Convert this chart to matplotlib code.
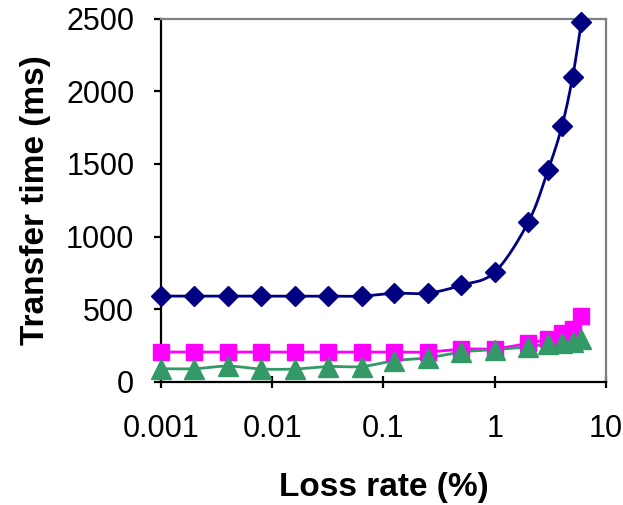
import numpy as np
import matplotlib.pyplot as plt
from matplotlib.ticker import FixedLocator, FixedFormatter, NullLocator

plt.rcParams['font.family'] = ['Liberation Sans', 'DejaVu Sans']

# loss rate (%)
loss = [0.001, 0.002, 0.004, 0.008, 0.016, 0.032, 0.064, 0.125, 0.25, 0.5,
        1, 2, 3, 4, 5, 6]

# transfer time (ms) for the three series
navy = [590, 590, 590, 590, 590, 590, 590, 610, 610, 665,
        755, 1100, 1455, 1758, 2100, 2480]
magenta = [205, 205, 205, 205, 205, 205, 205, 205, 205, 225,
           228, 265, 295, 335, 360, 450]
green = [90, 90, 108, 88, 88, 105, 105, 145, 165, 205,
         222, 240, 262, 265, 275, 296]

xticks = [0.001, 0.01, 0.1, 1, 10]
xlabels = ["0.001", "0.01", "0.1", "1", "10"]
yticks = [0, 500, 1000, 1500, 2000, 2500]


def smooth(x, y, n=20):
    # catmull-rom through the points in log-x space, like excel smoothed lines
    lx = np.log10(x)
    y = np.asarray(y, float)
    px = np.concatenate([[2 * lx[0] - lx[1]], lx, [2 * lx[-1] - lx[-2]]])
    py = np.concatenate([[2 * y[0] - y[1]], y, [2 * y[-1] - y[-2]]])
    ox, oy = [], []
    t = np.linspace(0, 1, n)
    for i in range(1, len(px) - 2):
        for arr, out in ((px, ox), (py, oy)):
            p0, p1, p2, p3 = arr[i - 1], arr[i], arr[i + 1], arr[i + 2]
            out.extend(0.5 * ((2 * p1) + (-p0 + p2) * t
                              + (2 * p0 - 5 * p1 + 4 * p2 - p3) * t ** 2
                              + (-p0 + 3 * p1 - 3 * p2 + p3) * t ** 3))
    return 10 ** np.array(ox), np.array(oy)


fig = plt.figure(figsize=(6.23, 5.05), dpi=100)
ax = fig.add_axes([0.258, 0.244, 0.715, 0.719])

series = [
    (navy, "#000080", "D", 10),
    (magenta, "#FF00FF", "s", 11),
    (green, "#339966", "^", 14),
]
for vals, col, mk, ms in series:
    sx, sy = smooth(loss, vals)
    ax.plot(sx, sy, color=col, lw=2, zorder=2)
    ax.plot(loss, vals, ls="none", marker=mk, ms=ms, color=col,
            mec=col, zorder=3, clip_on=False)

ax.set_xscale("log")
ax.set_xlim(0.001, 10)
ax.set_ylim(0, 2500)
ax.xaxis.set_major_locator(FixedLocator(xticks))
ax.xaxis.set_major_formatter(FixedFormatter(xlabels))
ax.xaxis.set_minor_locator(NullLocator())
ax.set_yticks(yticks)

for s in ("left", "bottom"):
    ax.spines[s].set_color("black")
    ax.spines[s].set_linewidth(1.6)
for s in ("top", "right"):
    ax.spines[s].set_color("#808080")
    ax.spines[s].set_linewidth(1.6)

ax.tick_params(axis="x", direction="inout", length=9, width=1.6,
               labelsize=22, pad=19)
ax.tick_params(axis="y", direction="out", length=5, width=1.6,
               labelsize=22, pad=14)

ax.set_xlabel("Loss rate (%)", fontsize=24, fontweight="bold", labelpad=20)
ax.set_ylabel("Transfer time (ms)", fontsize=24, fontweight="bold",
              labelpad=11)

fig.savefig("out.png", dpi=100)
